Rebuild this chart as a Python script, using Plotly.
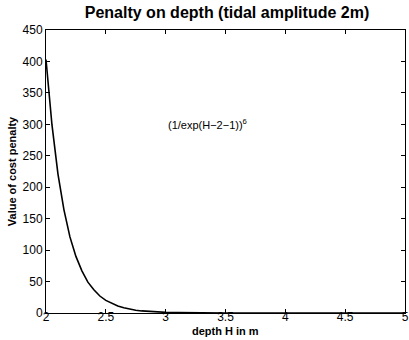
import plotly.graph_objects as go

depth_H = [2.0, 2.05, 2.1, 2.15, 2.2, 2.25, 2.3, 2.35, 2.4, 2.45, 2.5, 2.55, 2.6,
           2.65, 2.7, 2.75, 2.8, 2.85, 2.9, 2.95, 3.0, 3.1, 3.2, 3.3, 3.5, 4.0, 4.5, 5.0]
penalty = [403, 299, 221, 164, 121, 90, 67, 49, 37, 27, 20, 15, 11,
           8.2, 6.0, 4.5, 3.3, 2.5, 1.8, 1.35, 1.0, 0.55, 0.3, 0.17, 0.05, 0.0, 0.0, 0.0]
x_ticks = [2, 2.5, 3, 3.5, 4, 4.5, 5]
y_ticks = [0, 50, 100, 150, 200, 250, 300, 350, 400, 450]

FONT = "Liberation Sans, Arial, sans-serif"

fig = go.Figure()
fig.add_trace(go.Scatter(x=depth_H, y=penalty, mode="lines",
                         line=dict(color="black", width=1.6), showlegend=False))

fig.add_annotation(x=3.0, y=300, xref="x", yref="y", xanchor="left", yanchor="middle",
                   text="(1/exp(H\u22122\u22121))<sup>6</sup>", showarrow=False,
                   font=dict(family=FONT, size=11, color="black"))

# x-axis title placed just under the tick labels, as in the reference
fig.add_annotation(x=0.5, y=-0.065, xref="paper", yref="paper", xanchor="center",
                   yanchor="middle", text="<b>depth H in m</b>", showarrow=False,
                   font=dict(family=FONT, size=11, color="black"))

axis_common = dict(showline=True, linecolor="black", linewidth=1, mirror="ticks",
                   ticks="inside", ticklen=4, tickcolor="black", showgrid=False,
                   zeroline=False, automargin=False,
                   tickfont=dict(family=FONT, size=12, color="black"))

fig.update_layout(
    width=409, height=340,
    margin=dict(l=46, r=4, t=30, b=27),
    paper_bgcolor="white", plot_bgcolor="white",
    title=dict(text="<b>Penalty on depth (tidal amplitude 2m)</b>", x=0.555, xanchor="center",
               y=0.964, yanchor="middle", font=dict(family=FONT, size=16, color="black")),
    xaxis=dict(range=[2, 5], tickvals=x_ticks, ticktext=[str(v) for v in x_ticks],
               ticklabelstandoff=-7, **axis_common),
    yaxis=dict(range=[0, 450], tickvals=y_ticks,
               title=dict(text="<b>Value of cost penalty</b>", standoff=3,
                          font=dict(family=FONT, size=11, color="black")),
               **axis_common),
)

fig.write_html("out.html")
